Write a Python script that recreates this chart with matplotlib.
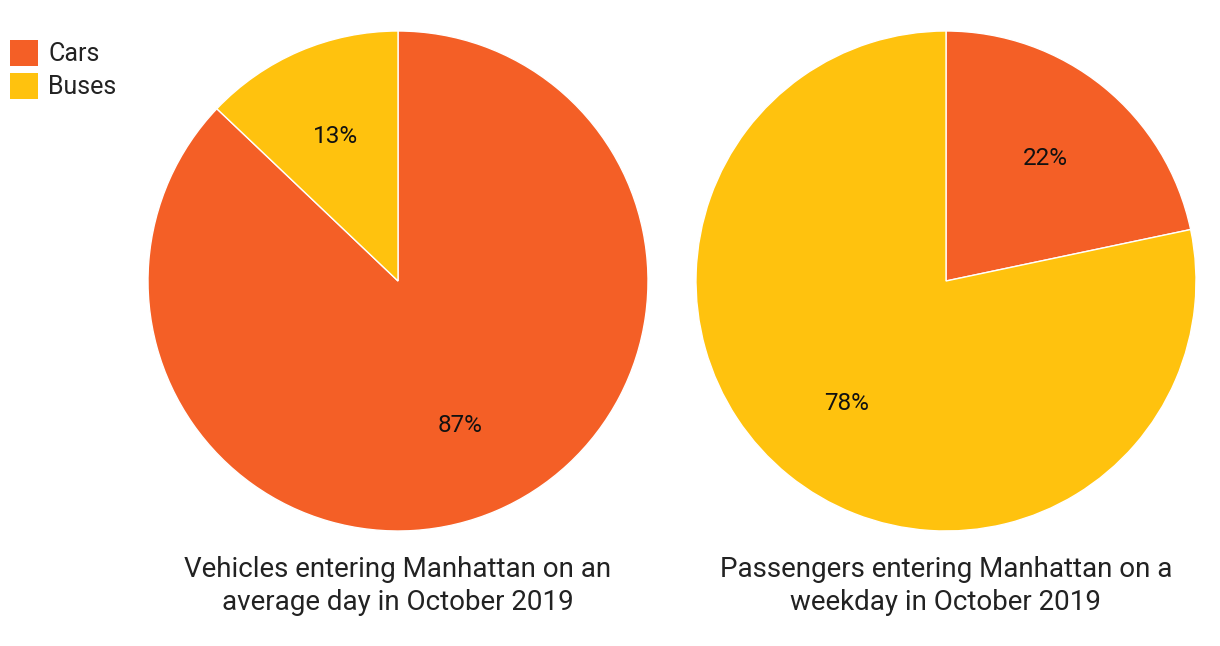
import matplotlib.pyplot as plt
from matplotlib.patches import Patch

plt.rcParams['font.family'] = ['Roboto', 'DejaVu Sans']

labels = ['Cars', 'Buses']
colors = ['#F45F26', '#FFC20E']
vehicles = [87.1, 12.9]
passengers = [21.7, 78.3]
titles = ['Vehicles entering Manhattan on an\naverage day in October 2019',
          'Passengers entering Manhattan on a\nweekday in October 2019']

fig = plt.figure(figsize=(12.2, 6.46), dpi=100)
ax1 = fig.add_axes([148 / 1220, 115 / 646, 500 / 1220, 500 / 646])
ax2 = fig.add_axes([696 / 1220, 115 / 646, 500 / 1220, 500 / 646])

for ax, vals, title in zip([ax1, ax2], [vehicles, passengers], titles):
    ax.pie(vals, colors=colors, startangle=90, counterclock=False,
           autopct='%.0f%%', pctdistance=0.63,
           wedgeprops=dict(edgecolor='white', linewidth=1),
           textprops=dict(fontsize=17.5, color='#111111'))
    ax.set_xlim(-1, 1)
    ax.set_ylim(-1, 1)
    ax.set_aspect('equal')
    ax.text(0, -1.10, title, ha='center', va='top', fontsize=20,
            color='#222222', linespacing=1.3)

handles = [Patch(facecolor=c, edgecolor='none') for c in colors]
fig.legend(handles, labels, loc='upper left', bbox_to_anchor=(10 / 1220, 1 - 40 / 646),
           frameon=False, fontsize=18, handlelength=1.12, handleheight=1.2,
           labelspacing=0.28, handletextpad=0.4, borderpad=0, borderaxespad=0,
           labelcolor='#222222')

fig.savefig('out.png', dpi=100)
